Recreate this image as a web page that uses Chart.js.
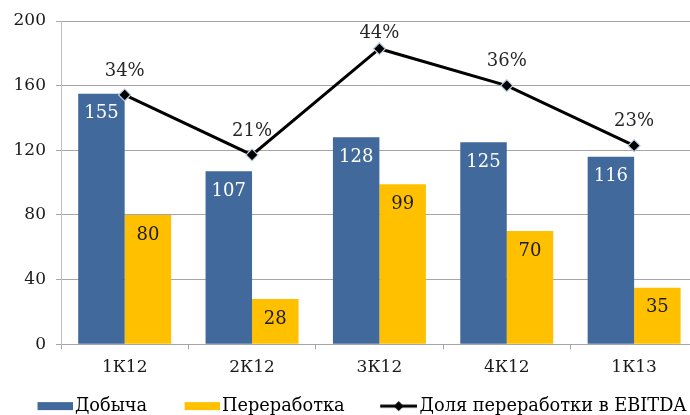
<!DOCTYPE html>
<html>
<head>
<meta charset="utf-8">
<script src="https://cdn.jsdelivr.net/npm/chart.js@4.4.0/dist/chart.umd.min.js"></script>
<style>
    html, body { margin:0; padding:0; background:#fff; overflow:hidden; }
    #wrap { position:relative; width:705px; height:425px; }
</style>
</head>
<body>
<div id="wrap"><canvas id="chart"></canvas></div>
<script>
// ── Data ──────────────────────────────────────────────────────────────
const quarters    = ['1К12', '2К12', '3К12', '4К12', '1К13'];
const mining      = [155, 107, 128, 125, 116];
const processing  = [80, 28, 99, 70, 35];
const ebitdaShare = [0.34, 0.21, 0.44, 0.36, 0.23];
const yTicks      = [0, 40, 80, 120, 160, 200];

const BLUE   = '#41699b';
const YELLOW = '#ffc000';
const FONT   = '"DejaVu Serif", serif';

// ── Legend swatches (canvas images, right-aligned inside a wider box) ─
const SW_W = 77;
function rectSwatch(color) {
    const c = document.createElement('canvas');
    c.width = SW_W; c.height = 10;
    const g = c.getContext('2d');
    g.fillStyle = color;
    g.fillRect(SW_W - 35, 1, 35, 8);
    return c;
}
function lineSwatch() {
    const c = document.createElement('canvas');
    c.width = SW_W; c.height = 12;
    const g = c.getContext('2d');
    g.strokeStyle = '#000'; g.lineWidth = 3;
    g.beginPath(); g.moveTo(SW_W - 37, 6); g.lineTo(SW_W, 6); g.stroke();
    const cx = SW_W - 18.5;
    g.fillStyle = '#000';
    g.beginPath(); g.moveTo(cx, 1); g.lineTo(cx + 5, 6); g.lineTo(cx, 11); g.lineTo(cx - 5, 6); g.closePath(); g.fill();
    return c;
}

// ── Value labels ──────────────────────────────────────────────────────
const valueLabels = {
    id: 'valueLabels',
    afterDatasetsDraw(chart) {
        const ctx = chart.ctx;
        const top = chart.chartArea.top;
        ctx.save();
        ctx.font = '18px ' + FONT;
        ctx.textAlign = 'center';
        ctx.textBaseline = 'middle';
        chart.data.datasets.forEach((ds, i) => {
            chart.getDatasetMeta(i).data.forEach((el, j) => {
                if (ds.type === 'line') {
                    // keep label inside the plot, like the original does for 44%
                    ctx.fillStyle = '#262626';
                    ctx.fillText(Math.round(ds.data[j] * 100) + '%', el.x, Math.max(el.y - 24, top + 12.5));
                } else {
                    ctx.fillStyle = i === 0 ? '#ffffff' : '#1a1a1a';
                    ctx.fillText(ds.data[j], el.x, el.y + 20);
                }
            });
        });
        ctx.restore();
    }
};

// ── Chart ─────────────────────────────────────────────────────────────
const swatches = [rectSwatch(BLUE), rectSwatch(YELLOW), lineSwatch()];

new Chart(document.getElementById('chart'), {
    type: 'bar',
    data: {
        labels: quarters,
        datasets: [
            { label:'Добыча',      data: mining,     backgroundColor: BLUE,   order: 1 },
            { label:'Переработка', data: processing, backgroundColor: YELLOW, order: 1 },
            {
                type: 'line', label: 'Доля переработки в EBITDA', data: ebitdaShare, yAxisID: 'y1',
                borderColor: '#000', borderWidth: 3, tension: 0, order: 0,
                pointStyle: 'rectRot', pointRadius: 6, pointBackgroundColor: '#000',
                pointBorderColor: '#b9cde5', pointBorderWidth: 1.2,
            }
        ]
    },
    options: {
        responsive: true,
        maintainAspectRatio: false,
        animation: false,
        layout: { padding: { left: 0, right: 7, top: 21, bottom: 0 } },
        datasets: { bar: { categoryPercentage: 0.73, barPercentage: 1 } },
        plugins: {
            tooltip: { enabled: false },
            legend: {
                position: 'bottom',
                align: 'start',
                labels: {
                    usePointStyle: true,
                    pointStyleWidth: SW_W - 13,
                    padding: 2,
                    color: '#1a1a1a',
                    font: { family: FONT, size: 17.75 },
                    generateLabels: chart => chart.data.datasets.map((ds, i) => ({
                        text: ds.label, pointStyle: swatches[i], datasetIndex: i,
                        fillStyle: 'transparent', strokeStyle: 'transparent', lineWidth: 0,
                    })),
                }
            }
        },
        scales: {
            x: {
                grid: { display: true, drawOnChartArea: false, offset: true, tickLength: 5, color: '#a6a6a6' },
                border: { color: '#a6a6a6' },
                ticks: { color: '#1a1a1a', padding: 8, font: { family: FONT, size: 17 } },
                afterFit(scale) { scale.height = 51; },
            },
            y: {
                min: 0, max: 200,
                afterBuildTicks(scale) { scale.ticks = yTicks.map(v => ({ value: v })); },
                grid: { color: '#a6a6a6', tickLength: 5 },
                border: { color: '#bfbfbf' },
                ticks: { color: '#1a1a1a', padding: 10, font: { family: FONT, size: 17 } },
                afterFit(scale) { scale.width = 61; },
            },
            y1: { display: false, min: -0.2, max: 0.5 },
        }
    },
    plugins: [valueLabels]
});
</script>
</body>
</html>
